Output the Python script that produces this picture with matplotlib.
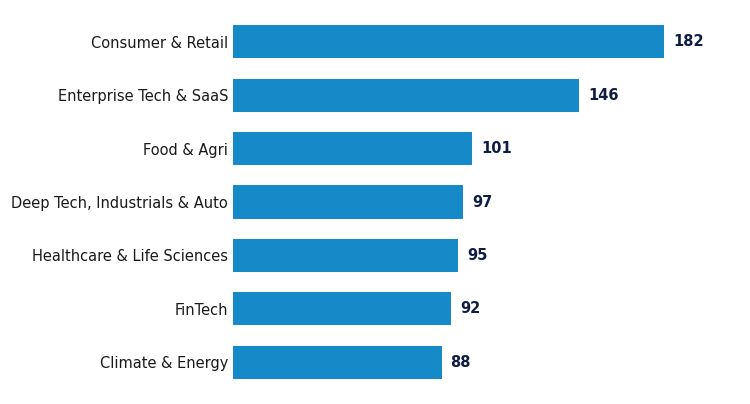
import matplotlib
matplotlib.use('Agg')
import matplotlib.pyplot as plt

plt.rcParams['font.family'] = 'DejaVu Sans'

# sector counts
sectors = ['Consumer & Retail', 'Enterprise Tech & SaaS', 'Food & Agri',
           'Deep Tech, Industrials & Auto', 'Healthcare & Life Sciences',
           'FinTech', 'Climate & Energy']
counts = [182, 146, 101, 97, 95, 92, 88]

bar_color = '#168ac9'
label_color = '#0f1d45'

fig = plt.figure(figsize=(7.5, 4.04), dpi=100)
ax = fig.add_axes([0.3107, 0.037, 0.676, 0.9257])

y = list(range(len(sectors)))
bars = ax.barh(y, counts, height=0.62, color=bar_color)

for b, v in zip(bars, counts):
    ax.annotate(str(v), (b.get_width(), b.get_y() + b.get_height() / 2),
                xytext=(6.5, 0), textcoords='offset points', va='center', ha='left',
                fontsize=10.5, fontweight='bold', color=label_color)

ax.set_yticks(y)
ax.set_yticklabels(sectors, fontsize=10.5, color='#1a1a1a')
ax.set_ylim(6.5, -0.5)
ax.set_xlim(0, 214)
ax.set_xticks([])
ax.tick_params(axis='y', length=0, pad=3.5)
for s in ax.spines.values():
    s.set_visible(False)

fig.savefig('out.png', dpi=100)
